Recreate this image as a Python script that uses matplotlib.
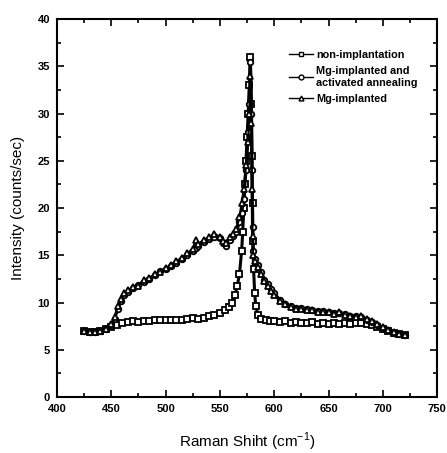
import numpy as np
import matplotlib
matplotlib.use('Agg')
import matplotlib.pyplot as plt
from matplotlib.ticker import MultipleLocator

# non-implantation (squares)
x_non = [425, 430, 435, 440, 445, 450, 455, 460, 465, 470, 475, 480, 485, 490, 495,
         500, 505, 510, 515, 520, 525, 530, 535, 540, 545, 550, 555, 558, 561, 564,
         566, 568, 570, 571, 572, 573, 574, 575, 576, 577, 578, 579, 579.5, 580, 580.5,
         581, 582, 583, 585, 588, 592, 596, 600, 605, 610, 615, 620, 625, 630, 635,
         640, 645, 650, 655, 660, 665, 670, 675, 680, 685, 690, 695, 700, 705, 710,
         715, 720]
y_non = [7.0, 6.9, 6.9, 7.0, 7.2, 7.4, 7.6, 7.8, 7.9, 8.0, 7.9, 8.0, 8.0, 8.1, 8.1,
         8.2, 8.1, 8.2, 8.2, 8.3, 8.4, 8.3, 8.4, 8.6, 8.7, 8.9, 9.2, 9.5, 10.0, 10.8,
         11.8, 13.0, 15.5, 17.5, 20.0, 22.5, 25.0, 27.5, 30.0, 33.0, 36.0, 31.0, 25.5, 20.5, 16.5,
         13.5, 11.0, 9.6, 8.7, 8.3, 8.1, 8.0, 8.0, 7.9, 8.0, 7.8, 7.9, 7.8, 7.8, 7.9,
         7.7, 7.8, 7.7, 7.8, 7.7, 7.8, 7.7, 7.8, 7.8, 7.7, 7.6, 7.4, 7.2, 7.0, 6.8,
         6.7, 6.6]

# Mg-implanted shares x positions for both Mg series
x_mg = [425, 430, 435, 440, 445, 450, 453, 456, 459, 462, 465, 470, 475, 480, 485,
        490, 495, 500, 505, 510, 515, 520, 525, 528, 530, 535, 540, 545, 550, 553,
        556, 559, 562, 565, 568, 570, 572, 574, 576, 577, 578, 579, 579.5, 580, 580.5,
        582, 585, 588, 591, 594, 597, 600, 605, 610, 615, 620, 625, 630, 635, 640,
        645, 650, 655, 660, 665, 670, 675, 680, 685, 690, 695, 700, 705, 710, 715,
        720]
y_ann = [7.0, 6.9, 6.9, 7.0, 7.2, 7.6, 8.3, 9.3, 10.2, 10.8, 11.1, 11.5, 11.9, 12.2, 12.5,
         12.9, 13.3, 13.5, 13.9, 14.2, 14.6, 15.0, 15.5, 15.8, 16.0, 16.4, 16.7, 16.9, 16.8, 16.3,
         16.0, 16.6, 17.0, 17.5, 18.5, 19.5, 21.0, 24.0, 28.0, 31.0, 35.5, 30.0, 24.0, 18.0, 15.5,
         14.6, 14.0, 13.2, 12.4, 12.0, 11.4, 11.0, 10.3, 9.8, 9.6, 9.4, 9.4, 9.3, 9.2, 9.1,
         9.1, 9.0, 8.9, 8.9, 8.8, 8.6, 8.6, 8.5, 8.2, 7.9, 7.6, 7.3, 7.1, 6.8, 6.7,
         6.6]
y_imp = [7.0, 6.9, 6.9, 7.0, 7.2, 7.7, 8.5, 9.6, 10.4, 11.0, 11.3, 11.6, 11.8, 12.4, 12.6,
         13.0, 13.2, 13.6, 14.0, 14.4, 14.7, 15.2, 15.7, 16.6, 16.2, 16.6, 16.9, 17.3, 16.9, 16.5,
         16.3, 16.9, 17.2, 17.8, 19.0, 20.5, 22.0, 24.5, 27.0, 30.0, 34.0, 29.0, 22.0, 17.0, 15.0,
         14.4, 13.8, 13.0, 12.3, 11.8, 11.2, 10.8, 10.2, 9.8, 9.5, 9.3, 9.3, 9.2, 9.2, 9.0,
         9.0, 9.0, 8.8, 9.0, 8.7, 8.6, 8.5, 8.6, 8.3, 8.0, 7.7, 7.4, 7.1, 6.9, 6.7,
         6.6]

plt.rcParams['font.family'] = ['Liberation Sans', 'DejaVu Sans']

fig = plt.figure(figsize=(4.47, 4.53), dpi=100)
ax = fig.add_axes([0.1275, 0.1236, 0.8505, 0.8344])

mk = dict(markerfacecolor='white', markeredgecolor='black', markersize=4, markeredgewidth=1.3)
ax.plot(x_non, y_non, '-', color='black', lw=2.2, marker='s', label='non-implantation', **mk)
ax.plot(x_mg, y_ann, '-', color='black', lw=2.2, marker='o',
        label='Mg-implanted and\nactivated annealing', **mk)
ax.plot(x_mg, y_imp, '-', color='black', lw=1.6, marker='^', label='Mg-implanted', **mk)

ax.set_xlim(400, 750)
ax.set_ylim(0, 40)
ax.xaxis.set_major_locator(MultipleLocator(50))
ax.xaxis.set_minor_locator(MultipleLocator(25))
ax.yaxis.set_major_locator(MultipleLocator(5))
ax.yaxis.set_minor_locator(MultipleLocator(2.5))
ax.tick_params(which='both', direction='in', top=True, right=True, width=1.2)
ax.tick_params(which='major', length=5, labelsize=8, pad=5)
ax.tick_params(which='minor', length=3)
for lbl in ax.get_xticklabels() + ax.get_yticklabels():
    lbl.set_fontweight('bold')
for s in ax.spines.values():
    s.set_linewidth(1.5)

ax.set_xlabel('Raman Shiht (cm$^{\\mathregular{-1}}$)', fontsize=11, labelpad=12)
ax.set_ylabel('Intensity (counts/sec)', fontsize=11, labelpad=9)

leg = ax.legend(loc='upper right', bbox_to_anchor=(0.975, 0.945), frameon=False,
                handlelength=2.2, handletextpad=0.3, labelspacing=0.6,
                prop={'size': 7.8, 'weight': 'bold'})
for h in leg.legend_handles:
    h.set_linewidth(1.0)
    h.set_markeredgewidth(1.0)
    h.set_markersize(3.5)

fig.savefig('out.png', dpi=100)
